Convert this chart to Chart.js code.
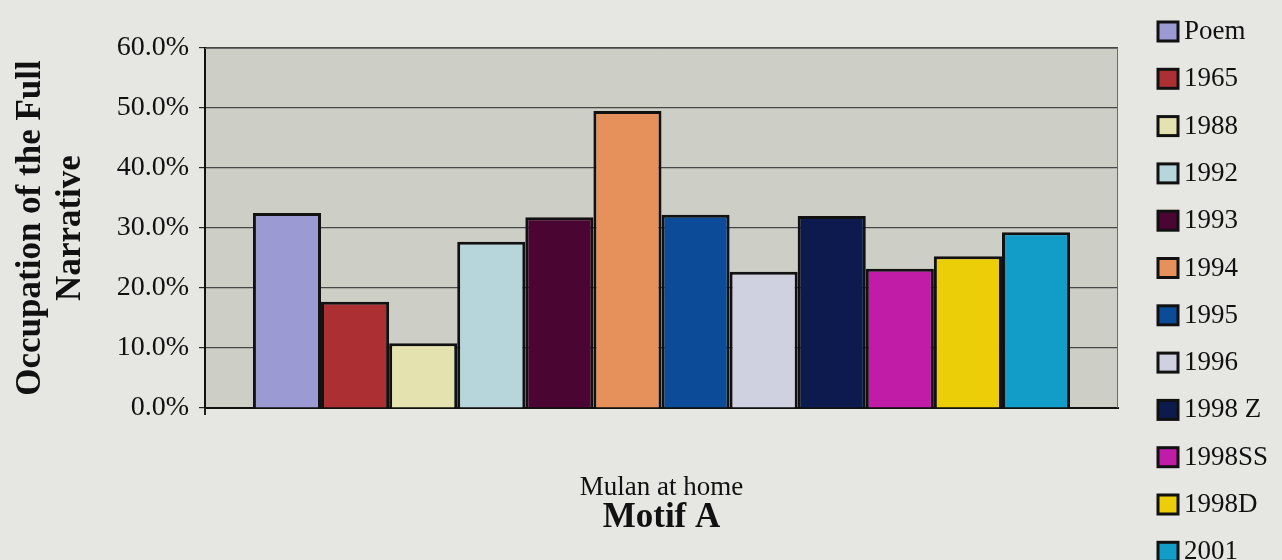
<!DOCTYPE html>
<html>
<head>
<meta charset="utf-8">
<script src="https://cdn.jsdelivr.net/npm/chart.js@4/dist/chart.umd.min.js"></script>
<style>
  html, body { margin: 0; padding: 0; background: #e6e6e2; }
  #wrap { width: 1282px; height: 560px; }
</style>
</head>
<body>
<div id="wrap"><canvas id="myChart"></canvas></div>
<script>
// Werte
const categories = ['Mulan at home'];
const seriesNames = ['Poem', '1965', '1988', '1992', '1993', '1994', '1995', '1996', '1998 Z', '1998SS', '1998D', '2001'];
const seriesValues = [32.5, 17.7, 10.8, 27.7, 31.8, 49.5, 32.2, 22.7, 32.0, 23.2, 25.3, 29.3];
const seriesColors = ['#9c9ad2', '#ab2f33', '#e4e2ae', '#b6d6dc', '#4a0532', '#e6905c', '#0b4b98', '#cfd0e0', '#0c1a4e', '#c01ca8', '#ecce08', '#129dc8'];
const yTicks = [0, 10, 20, 30, 40, 50, 60];

const serif = '"Liberation Serif", "Times New Roman", serif';

// Hintergrund und Rahmen der Zeichenfläche
const plotFrame = {
  id: 'plotFrame',
  beforeDraw(chart) {
    const { ctx, chartArea: a } = chart;
    ctx.save();
    ctx.fillStyle = '#cdcec6';
    ctx.fillRect(a.left, a.top, a.right - a.left, a.bottom - a.top);
    ctx.restore();
  },
  afterDraw(chart) {
    const { ctx, chartArea: a } = chart;
    ctx.save();
    ctx.strokeStyle = '#6a6a6a';
    ctx.lineWidth = 1;
    ctx.beginPath();
    ctx.moveTo(a.left, a.top + 0.5);
    ctx.lineTo(a.right - 0.5, a.top + 0.5);
    ctx.lineTo(a.right - 0.5, a.bottom);
    ctx.stroke();
    // kleiner Strich unter der Achse links
    ctx.strokeStyle = '#222';
    ctx.lineWidth = 2;
    ctx.beginPath();
    ctx.moveTo(a.left, a.bottom);
    ctx.lineTo(a.left, a.bottom + 7);
    ctx.stroke();
    ctx.restore();
  }
};

// Legende rechts, eigene Zeichnung (12 Einträge passen sonst nicht)
const sideLegend = {
  id: 'sideLegend',
  afterDraw(chart) {
    const ctx = chart.ctx;
    ctx.save();
    ctx.font = '27px ' + serif;
    ctx.textBaseline = 'middle';
    chart.data.datasets.forEach((ds, i) => {
      const y = 31 + i * 47.3;
      ctx.fillStyle = ds.backgroundColor;
      ctx.fillRect(1158, y - 9, 20, 19);
      ctx.strokeStyle = '#111';
      ctx.lineWidth = 3;
      ctx.strokeRect(1158, y - 9, 20, 19);
      ctx.fillStyle = '#111';
      ctx.fillText(ds.label, 1184, y + 1);
    });
    ctx.restore();
  }
};

const ctx = document.getElementById('myChart').getContext('2d');
const myChart = new Chart(ctx, {
  type: 'bar',
  data: {
    labels: categories,
    datasets: seriesNames.map((name, i) => ({
      label: name,
      data: [seriesValues[i]],
      backgroundColor: seriesColors[i],
      borderColor: '#111',
      borderWidth: 3
    }))
  },
  options: {
    responsive: true,
    maintainAspectRatio: false,
    animation: false,
    layout: { padding: { top: 48, right: 164, bottom: 0, left: 0 } },
    datasets: {
      bar: { categoryPercentage: 0.895, barPercentage: 1 }
    },
    plugins: {
      legend: { display: false },
      tooltip: { enabled: false }
    },
    scales: {
      y: {
        min: 0,
        max: 60,
        afterBuildTicks: s => { s.ticks = yTicks.map(v => ({ value: v })); },
        afterFit: s => { s.width = 205; },
        ticks: {
          color: '#111',
          padding: 10,
          font: { family: serif, size: 28 },
          callback: v => v.toFixed(1) + '%'
        },
        grid: { color: '#474747', lineWidth: 1.2, tickLength: 6, tickColor: '#222' },
        border: { color: '#111', width: 2 },
        title: {
          display: true,
          text: ['Occupation of the Full', 'Narrative'],
          color: '#111',
          padding: { top: 11, bottom: 0 },
          font: { family: serif, size: 35, weight: 'bold', lineHeight: 1.15 }
        }
      },
      x: {
        afterFit: s => { s.height = 152; },
        ticks: {
          color: '#111',
          padding: 56,
          font: { family: serif, size: 27 }
        },
        grid: { display: false },
        border: { color: '#111', width: 2 },
        title: {
          display: true,
          text: 'Motif A',
          color: '#111',
          padding: { top: 0, bottom: 21 },
          font: { family: serif, size: 35, weight: 'bold', lineHeight: 1.2 }
        }
      }
    }
  },
  plugins: [plotFrame, sideLegend]
});
</script>
</body>
</html>
